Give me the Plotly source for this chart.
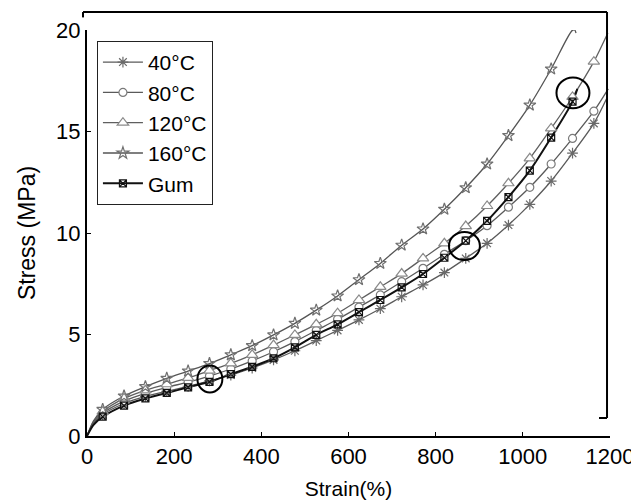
import plotly.graph_objects as go

# ---------------- data ----------------
strain_marks = [36, 85, 134, 183, 232, 281, 330, 379, 428, 477, 526, 575, 624, 673,
                722, 771, 820, 869, 918, 967, 1016, 1065, 1114, 1163]

s40 = [1.05, 1.6, 1.95, 2.2, 2.45, 2.72, 3.0, 3.35, 3.75, 4.2, 4.7, 5.2, 5.72, 6.27,
       6.86, 7.44, 8.05, 8.75, 9.49, 10.39, 11.41, 12.56, 13.93, 15.4]
s40_end = [1194, 16.7]

s80 = [1.12, 1.72, 2.1, 2.4, 2.65, 2.95, 3.3, 3.7, 4.15, 4.65, 5.2, 5.75, 6.35, 6.95,
       7.6, 8.26, 8.95, 9.62, 10.36, 11.27, 12.25, 13.4, 14.66, 16.0]
s80_end = [1196, 17.1]

s120 = [1.2, 1.85, 2.25, 2.55, 2.86, 3.22, 3.58, 4.0, 4.48, 4.98, 5.5, 6.05, 6.7, 7.35,
        8.0, 8.75, 9.49, 10.34, 11.33, 12.45, 13.68, 15.15, 16.7, 18.44]
s120_end = [1195, 19.85]

s160 = [1.31, 1.97, 2.43, 2.84, 3.2, 3.57, 4.0, 4.45, 4.98, 5.55, 6.2, 6.9, 7.7, 8.5,
        9.4, 10.2, 11.17, 12.23, 13.4, 14.8, 16.3, 18.08]
s160_end_x = [1113, 1119, 1122]
s160_end_y = [19.97, 20.0, 19.85]

gum = [0.95, 1.5, 1.85, 2.12, 2.4, 2.67, 3.05, 3.41, 3.83, 4.37, 4.98, 5.5, 6.1, 6.7,
       7.32, 7.98, 8.78, 9.62, 10.6, 11.77, 13.07, 14.7, 16.47]
gum_end = [1125, 17.1]

start_x = [0, 15]
start_y = {"40": [0, 0.6], "80": [0, 0.65], "120": [0, 0.7], "160": [0, 0.75], "gum": [0, 0.55]}

labels = ["40°C", "80°C", "120°C", "160°C", "Gum"]

x_ticks = [0, 200, 400, 600, 800, 1000, 1200]
y_ticks = [0, 5, 10, 15, 20]

# highlighted points (circle centre strain, stress)
circle_x = [282, 866, 1115]
circle_y = [2.81, 9.36, 16.9]
circle_rx = [28.6, 35.5, 37.8]
circle_ry = [0.665, 0.69, 0.76]

# ---------------- styles ----------------
FONT = "Liberation Sans, Arial, sans-serif"
styles = {
    "40°C": dict(sym="asterisk-open", size=9, mcol="#6a6a6a", lcol="#5a5a5a", lw=1.3, fill="white"),
    "80°C": dict(sym="circle", size=8, mcol="#7a7a7a", lcol="#5a5a5a", lw=1.3, fill="white"),
    "120°C": dict(sym="triangle-up", size=10, mcol="#8a8a8a", lcol="#5f5f5f", lw=1.3, fill="white"),
    "160°C": dict(sym="star-open", size=9, mcol="#707070", lcol="#555555", lw=1.3, fill="white"),
    "Gum": dict(sym="square-x-open", size=7, mcol="#111111", lcol="#111111", lw=2.0, fill="white"),
}

series = [
    ("40°C", start_x + strain_marks + [s40_end[0]], start_y["40"] + s40 + [s40_end[1]], strain_marks, s40),
    ("80°C", start_x + strain_marks + [s80_end[0]], start_y["80"] + s80 + [s80_end[1]], strain_marks, s80),
    ("120°C", start_x + strain_marks + [s120_end[0]], start_y["120"] + s120 + [s120_end[1]], strain_marks, s120),
    ("160°C", start_x + strain_marks[:len(s160)] + s160_end_x, start_y["160"] + s160 + s160_end_y,
     strain_marks[:len(s160)], s160),
    ("Gum", start_x + strain_marks[:len(gum)] + [gum_end[0]], start_y["gum"] + gum + [gum_end[1]],
     strain_marks[:len(gum)], gum),
]

fig = go.Figure()

for name, lx, ly, mx, my in series:
    st = styles[name]
    fig.add_trace(go.Scatter(x=lx, y=ly, mode="lines", showlegend=False, hoverinfo="skip",
                             line=dict(color=st["lcol"], width=st["lw"], shape="spline", smoothing=0.8)))
for name, lx, ly, mx, my in series:
    st = styles[name]
    fig.add_trace(go.Scatter(x=mx, y=my, mode="markers", showlegend=False, name=name,
                             marker=dict(symbol=st["sym"], size=st["size"],
                                         color=st["mcol"] if st["sym"].endswith("open") else st["fill"],
                                         line=dict(color=st["mcol"], width=1.2))))
for name in labels:
    st = styles[name]
    fig.add_trace(go.Scatter(x=[None], y=[None], mode="lines+markers", name=name,
                             line=dict(color=st["lcol"], width=st["lw"]),
                             marker=dict(symbol=st["sym"], size=st["size"],
                                         color=st["mcol"] if st["sym"].endswith("open") else st["fill"],
                                         line=dict(color=st["mcol"], width=1.2))))

for cx, cy, rx, ry in zip(circle_x, circle_y, circle_rx, circle_ry):
    fig.add_shape(type="circle", xref="x", yref="y", x0=cx - rx, x1=cx + rx, y0=cy - ry, y1=cy + ry,
                  line=dict(color="black", width=2))

# extra frame pieces (top and right lines, as in the reference), in paper units
frame = dict(color="black", width=2)
PX_L, PX_R, PX_HOOK = -0.0076, 0.9943, 0.979
PY_T, PY_HOOK_L, PY_RB = 1.0443, 1.031, 0.0443
fig.add_shape(type="line", xref="paper", yref="paper", x0=PX_L, x1=PX_R, y0=PY_T, y1=PY_T, line=frame)
fig.add_shape(type="line", xref="paper", yref="paper", x0=PX_L, x1=PX_L, y0=PY_T, y1=PY_HOOK_L, line=frame)
fig.add_shape(type="line", xref="paper", yref="paper", x0=PX_R, x1=PX_R, y0=PY_T, y1=PY_RB, line=frame)
fig.add_shape(type="line", xref="paper", yref="paper", x0=PX_HOOK, x1=PX_R, y0=PY_RB, y1=PY_RB, line=frame)

fig.update_layout(
    width=639, height=504,
    margin=dict(l=79, r=37, t=22, b=76, autoexpand=False),
    paper_bgcolor="white", plot_bgcolor="white",
    font=dict(family=FONT, size=22, color="black"),
    showlegend=True,
    legend=dict(x=0.019, y=0.973, xanchor="left", yanchor="top",
                bgcolor="white", bordercolor="#222222", borderwidth=1,
                font=dict(size=21), itemwidth=40, tracegroupgap=0),
    xaxis=dict(range=[0, 1200], tickvals=x_ticks, ticktext=[str(v) for v in x_ticks],
               showline=True, linecolor="black", linewidth=2, ticks="inside", ticklen=4,
               tickcolor="black", showgrid=False, zeroline=False, automargin=False,
               tickfont=dict(size=22),
               title=dict(text="Strain(%)", standoff=13, font=dict(size=21))),
    yaxis=dict(range=[0, 20], tickvals=y_ticks, ticktext=[str(v) for v in y_ticks],
               showline=True, linecolor="black", linewidth=2, ticks="inside", ticklen=4,
               tickcolor="black", showgrid=False, zeroline=False, automargin=False,
               tickfont=dict(size=22),
               title=dict(text="Stress (MPa)", standoff=14, font=dict(size=23))),
)

fig.write_html("out.html")
